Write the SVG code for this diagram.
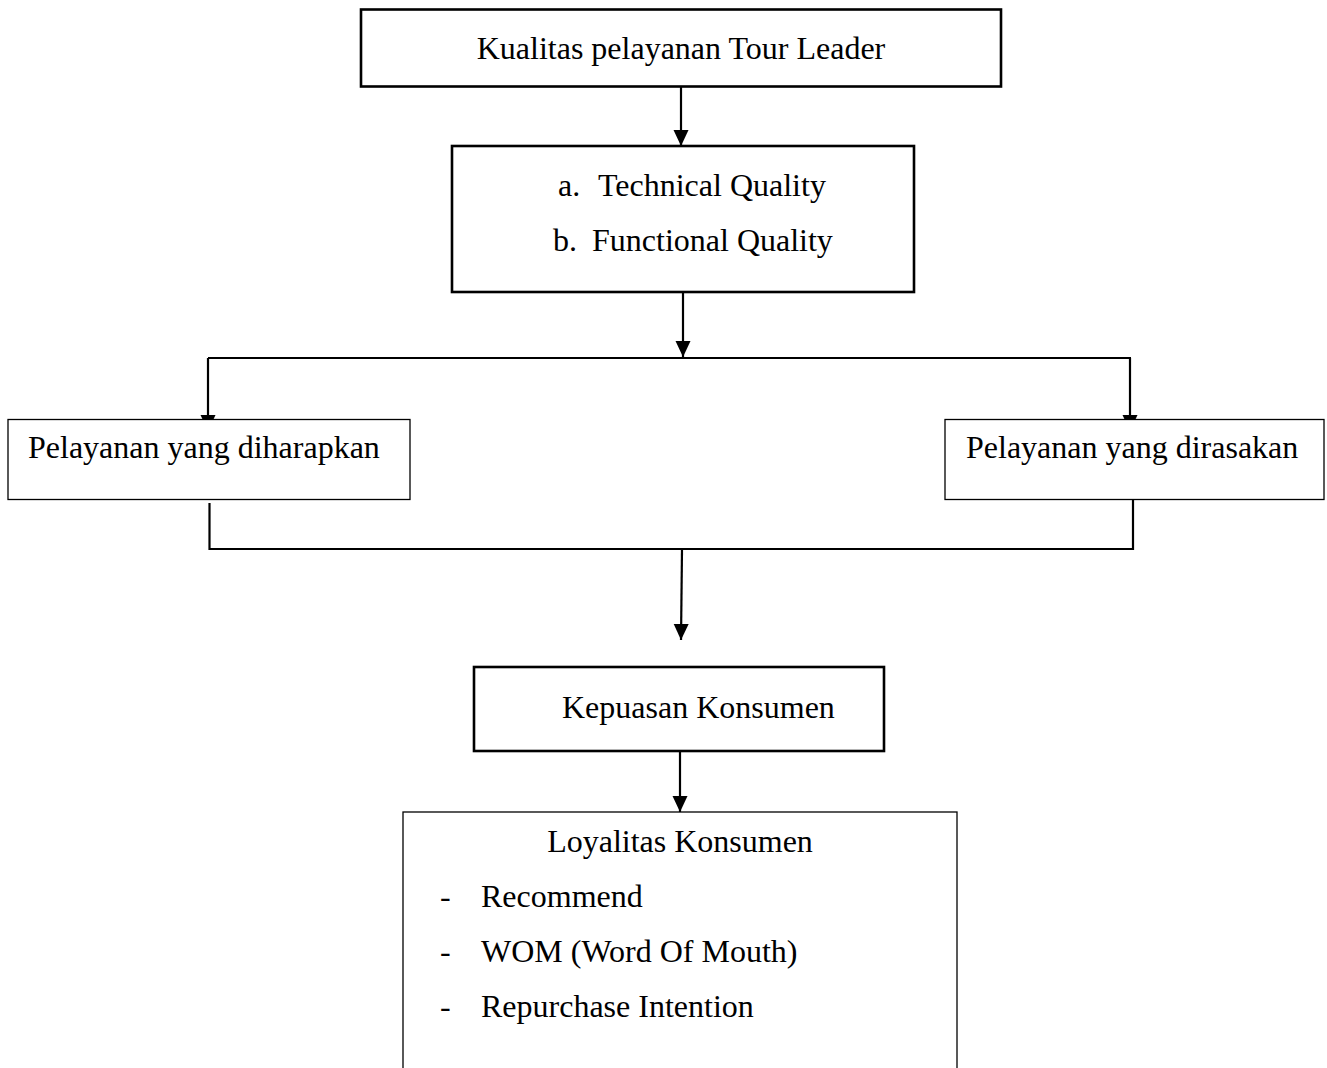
<svg xmlns="http://www.w3.org/2000/svg" width="1327" height="1068" viewBox="0 0 1327 1068">
<defs>
<style>
text{font-family:"Liberation Serif","Times New Roman",serif;font-size:32px;fill:#000}
.thick{fill:#fff;stroke:#000;stroke-width:2.6}
.thin{fill:#fff;stroke:#000;stroke-width:1.3}
.conn{fill:none;stroke:#000;stroke-width:2.2}
.arr{marker-end:url(#ah)}
</style>
<marker id="ah" markerUnits="userSpaceOnUse" markerWidth="16" markerHeight="16" refX="16" refY="7.5" orient="auto">
<path d="M0,0 L16,7.5 L0,15 z" fill="#000"/>
</marker>
</defs>
<rect width="1327" height="1068" fill="#fff"/>
<g id="connectors">
<line class="conn arr" x1="681" y1="87" x2="681" y2="146"/>
<line class="conn arr" x1="683" y1="293" x2="683" y2="357"/>
<line class="conn" x1="208" y1="358" x2="1131" y2="358"/>
<line class="conn arr" x1="208" y1="358" x2="208" y2="431"/>
<line class="conn arr" x1="1130" y1="358" x2="1130" y2="431"/>
<polyline class="conn" points="209.5,503 209.5,549 1133,549 1133,500"/>
<line class="conn arr" x1="682" y1="549" x2="681" y2="640"/>
<line class="conn arr" x1="680" y1="752" x2="680" y2="812"/>
</g>
<g id="node-kualitas">
<rect class="thick" x="361" y="9.5" width="640" height="77"/>
<text x="681" y="59" text-anchor="middle">Kualitas pelayanan Tour Leader</text>
</g>
<g id="node-quality">
<rect class="thick" x="452" y="146" width="462" height="146"/>
<text x="558" y="196">a.</text><text x="598" y="196">Technical Quality</text>
<text x="553" y="251">b.</text><text x="592" y="251">Functional Quality</text>
</g>
<g id="node-diharapkan">
<rect class="thin" x="8" y="419.5" width="402" height="80"/>
<text x="28" y="458">Pelayanan yang diharapkan</text>
</g>
<g id="node-dirasakan">
<rect class="thin" x="945" y="419.5" width="379" height="80"/>
<text x="966" y="458">Pelayanan yang dirasakan</text>
</g>
<g id="node-kepuasan">
<rect class="thick" x="474" y="667" width="410" height="84"/>
<text x="562" y="718">Kepuasan Konsumen</text>
</g>
<g id="node-loyalitas">
<rect class="thin" x="403" y="812" width="554" height="270"/>
<text x="680" y="852" text-anchor="middle">Loyalitas Konsumen</text>
<text x="440" y="907">-</text><text x="481" y="907">Recommend</text>
<text x="440" y="962">-</text><text x="481" y="962">WOM (Word Of Mouth)</text>
<text x="440" y="1017">-</text><text x="481" y="1017">Repurchase Intention</text>
</g>
</svg>
